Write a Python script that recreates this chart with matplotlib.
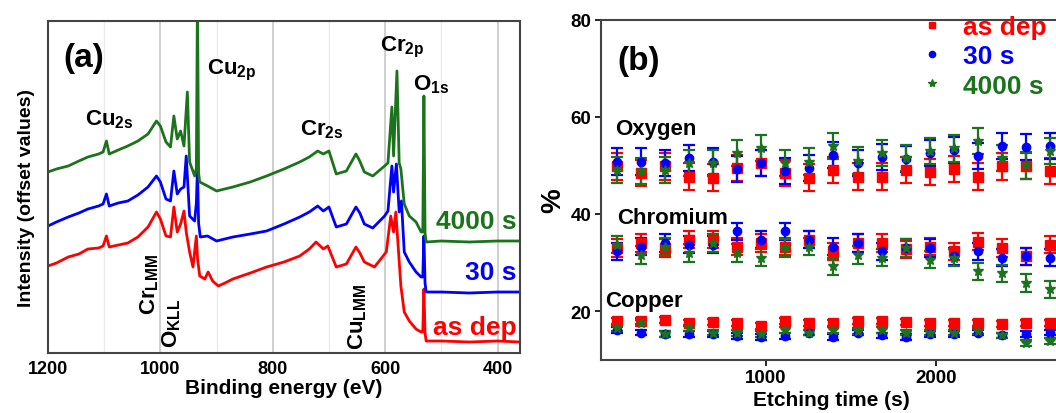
import matplotlib
matplotlib.use("Agg")
import matplotlib.pyplot as plt
from matplotlib.lines import Line2D

plt.rcParams['font.family'] = ['Liberation Sans', 'DejaVu Sans']
plt.rcParams['font.weight'] = 'bold'
plt.rcParams['mathtext.fontset'] = 'custom'
plt.rcParams['mathtext.rm'] = 'Liberation Sans:bold'
plt.rcParams['mathtext.it'] = 'Liberation Sans:bold'
plt.rcParams['mathtext.bf'] = 'Liberation Sans:bold'

RED = '#ff0000'
BLUE = '#0000ff'
GREEN = '#1b741b'

# ---- panel (a): survey spectra (binding energy in eV, intensity in arb. units, offset)
e_asdep = [1200, 1185, 1164, 1145, 1129, 1110, 1102, 1096, 1091, 1075, 1058, 1040, 1022,
           1007, 1000, 990, 982, 976, 970, 964, 958, 954, 948, 942, 936, 934, 930, 921,
           915, 907, 897, 885, 871, 840, 811, 780, 752, 735, 723, 710, 702, 687, 669,
           652, 645, 637, 619, 598, 590, 585, 581, 572, 566, 557, 545, 536, 533, 531,
           529, 527, 500, 450, 400, 360]
i_asdep = [87, 90, 96, 99, 104, 105, 107, 117, 106, 108, 110, 116, 126,
           141, 134, 117, 116, 146, 121, 129, 142, 121, 101, 86, 117, 95, 77, 74,
           81, 72, 67, 70, 74, 80, 86, 91, 97, 104, 111, 104, 107, 86, 89,
           106, 100, 91, 86, 101, 137, 121, 141, 67, 41, 32, 24, 21, 21, 64,
           20, 12, 12, 11, 12, 11]

e_30s = [1200, 1185, 1164, 1145, 1129, 1110, 1102, 1096, 1091, 1075, 1058, 1040, 1022,
         1007, 1000, 990, 982, 976, 970, 964, 958, 954, 948, 939, 936, 934, 932, 929,
         916, 900, 871, 840, 811, 780, 752, 735, 720, 710, 700, 687, 669, 652, 645,
         637, 622, 601, 595, 588, 585, 580, 575, 571, 566, 557, 545, 536, 533, 531,
         529, 527, 500, 450, 400, 360]
i_30s = [127, 131, 136, 140, 144, 147, 149, 159, 147, 150, 152, 158, 166,
         177, 171, 154, 152, 182, 159, 164, 166, 197, 137, 132, 150, 185, 130, 116,
         117, 112, 116, 119, 122, 129, 136, 141, 147, 142, 146, 126, 129, 146, 140,
         129, 125, 137, 142, 187, 161, 189, 141, 152, 101, 91, 81, 76, 76, 117,
         70, 61, 61, 60, 61, 61]

e_4000s = [1200, 1185, 1164, 1145, 1129, 1110, 1102, 1096, 1091, 1075, 1058, 1040, 1022,
           1007, 1000, 990, 982, 976, 970, 964, 958, 952, 948, 939, 936, 934, 932, 930,
           916, 900, 871, 840, 811, 780, 752, 735, 720, 710, 700, 687, 669, 652, 646,
           637, 622, 601, 595, 588, 585, 579, 575, 572, 566, 557, 545, 536, 533, 531,
           529, 527, 500, 450, 400, 360]
i_4000s = [181, 184, 187, 192, 196, 199, 201, 212, 199, 203, 207, 212, 219,
           232, 227, 211, 206, 237, 214, 222, 207, 261, 191, 177, 185, 360, 180, 171,
           167, 162, 166, 171, 177, 184, 191, 196, 202, 199, 202, 179, 182, 199, 193,
           181, 177, 187, 190, 246, 197, 282, 190, 184, 149, 137, 131, 121, 121, 257,
           120, 111, 112, 111, 112, 112]

# ---- panel (b): composition vs etching time
t_etch = [122, 264, 405, 547, 689, 830, 972, 1114, 1256, 1397, 1539, 1681, 1822,
          1964, 2106, 2248, 2389, 2531, 2673]
o_asdep = [49.8, 48.4, 49.8, 47.7, 47.5, 49.5, 50.5, 48.4, 47.5, 49.1, 47.7, 47.7, 49.1,
           48.6, 49.3, 47.7, 49.8, 49.9, 48.8]
o_30s = [50.8, 50.8, 50.5, 51.5, 50.8, 49.3, 50.5, 48.8, 49.5, 52.2, 50.5, 51.7, 51.3,
         52.5, 53.1, 52.0, 54.0, 53.8, 54.0]
o_4000s = [49.1, 48.8, 49.1, 50.5, 50.5, 52.5, 53.6, 50.5, 50.8, 54.0, 51.0, 52.5, 51.5,
           53.0, 53.5, 55.0, 51.5, 50.0, 53.0]
cr_asdep = [33.0, 34.0, 33.0, 34.7, 34.7, 33.3, 34.0, 33.3, 34.7, 32.3, 34.0, 34.0, 32.7,
            33.3, 32.3, 34.3, 33.0, 31.3, 33.7]
cr_30s = [32.3, 33.3, 34.0, 33.7, 33.7, 36.4, 34.7, 36.4, 34.7, 33.3, 34.0, 32.3, 33.0,
          33.0, 31.3, 32.3, 31.0, 31.3, 31.0]
cr_4000s = [33.7, 31.6, 33.3, 32.0, 34.0, 32.0, 31.0, 33.0, 33.3, 29.2, 31.6, 31.0, 33.0,
            30.6, 31.0, 28.2, 27.8, 25.8, 24.5]
cu_asdep = [18.0, 18.0, 18.2, 17.6, 17.7, 17.5, 17.0, 18.0, 17.6, 17.6, 18.0, 18.0, 17.8,
            17.6, 17.6, 17.6, 17.3, 17.5, 17.5]
cu_30s = [16.2, 15.6, 15.3, 15.3, 15.3, 14.8, 14.6, 14.8, 15.6, 14.6, 15.6, 15.0, 14.6,
          15.3, 15.3, 15.6, 15.0, 15.3, 15.6]
cu_4000s = [16.6, 17.5, 15.3, 16.5, 15.6, 15.5, 15.3, 16.2, 15.6, 16.2, 15.9, 16.2, 15.6,
            15.6, 15.6, 15.9, 15.0, 13.5, 13.9]
o_err = 2.7
cr_err = 1.8
cu_err = 0.6

fig = plt.figure(figsize=(10.56, 4.14), dpi=100)
W, H = 1056, 414

# ================= panel (a)
ax = fig.add_axes([48 / W, (H - 354) / H, (520 - 48) / W, (354 - 22) / H])
ax.plot(e_asdep, i_asdep, color=RED, lw=2.0)
ax.plot(e_30s, i_30s, color=BLUE, lw=2.0)
ax.plot(e_4000s, i_4000s, color=GREEN, lw=2.0)
ax.set_xlim(1200, 360)
ax.set_ylim(0, 332)
ax.set_xticks([1200, 1000, 800, 600, 400])
ax.set_xticks([1100, 900, 700, 500], minor=True)
ax.set_yticks([])
ax.grid(True, which='major', axis='x', color='#cccccc', lw=1.3)
ax.grid(True, which='minor', axis='x', color='#ebebeb', lw=1.0)
ax.set_axisbelow(True)
ax.tick_params(axis='x', which='both', length=0, pad=5, labelsize=13)
for s in ax.spines.values():
    s.set_color('#444444')
    s.set_linewidth(1.5)
ax.set_xlabel('Binding energy (eV)', fontsize=15, fontweight='bold')
ax.xaxis.set_label_coords(0.5, -0.075)
ax.set_ylabel('Intensity (offset values)', fontsize=14, fontweight='bold')
ax.yaxis.set_label_coords(-0.028, 0.47)

ax.text(1173, 296, '(a)', fontsize=24, fontweight='bold', va='center', ha='left')
ax.text(1135, 234, r'Cu$_{2s}$', fontsize=16, va='center', ha='left')
ax.text(917, 284, r'Cu$_{2p}$', fontsize=16, va='center', ha='left')
ax.text(752, 224, r'Cr$_{2s}$', fontsize=16, va='center', ha='left')
ax.text(610, 307, r'Cr$_{2p}$', fontsize=16, va='center', ha='left')
ax.text(551, 269, r'O$_{1s}$', fontsize=16, va='center', ha='left')
ax.text(1019, 39, r'Cr$_{LMM}$', fontsize=16, rotation=90, ha='center', va='bottom')
ax.text(980, 6, r'O$_{KLL}$', fontsize=16, rotation=90, ha='center', va='bottom')
ax.text(649, 4, r'Cu$_{LMM}$', fontsize=16, rotation=90, ha='center', va='bottom')
ax.text(366, 132, '4000 s', color=GREEN, fontsize=19, ha='right', va='center')
ax.text(366, 81, '30 s', color=BLUE, fontsize=19, ha='right', va='center')
ax.text(366, 26, 'as dep', color=RED, fontsize=19, ha='right', va='center')

# ================= panel (b)
bx = fig.add_axes([601 / W, (H - 360.7) / H, 460 / W, 340 / H])
eb = dict(ls='none', elinewidth=1.6, capsize=4, capthick=1.6)
series = [
    (o_asdep, cr_asdep, cu_asdep, RED, 's', 6.5),
    (o_30s, cr_30s, cu_30s, BLUE, 'o', 6),
    (o_4000s, cr_4000s, cu_4000s, GREEN, '*', 7.5),
]
for o, cr, cu, c, m, ms in series:
    bx.errorbar(t_etch, o, yerr=o_err, color=c, marker=m, ms=ms, **eb)
    bx.errorbar(t_etch, cr, yerr=cr_err, color=c, marker=m, ms=ms, **eb)
    bx.errorbar(t_etch, cu, yerr=cu_err, color=c, marker=m, ms=ms, **eb)

bx.set_xlim(30, 2735)
bx.set_ylim(10, 80)
bx.set_xticks([1000, 2000])
bx.set_yticks([20, 40, 60, 80])
bx.tick_params(direction='out', length=4, width=1.2, labelsize=13.5, pad=3)
for s in bx.spines.values():
    s.set_color('#444444')
    s.set_linewidth(1.5)
bx.spines['right'].set_visible(False)
bx.set_xlabel('Etching time (s)', fontsize=15, fontweight='bold')
bx.xaxis.set_label_coords(0.5, -0.09)
bx.set_ylabel('%', fontsize=20, fontweight='bold')
bx.yaxis.set_label_coords(-0.075, 0.47)

bx.text(112, 57.7, 'Oxygen', fontsize=16, ha='left', va='center')
bx.text(124, 39.3, 'Chromium', fontsize=16, ha='left', va='center')
bx.text(54, 22.1, 'Copper', fontsize=16, ha='left', va='center')
bx.text(124, 71.5, '(b)', fontsize=24, ha='left', va='center')

handles = [Line2D([], [], ls='none', marker='s', color=RED, ms=5),
           Line2D([], [], ls='none', marker='o', color=BLUE, ms=4.5),
           Line2D([], [], ls='none', marker='*', color=GREEN, ms=6)]
leg = bx.legend(handles, ['as dep', '30 s', '4000 s'], loc='upper left',
                bbox_to_anchor=((919 - 601) / 460, (360.7 - 16) / 340),
                frameon=False, fontsize=19, handlelength=1.0, handletextpad=0.65,
                labelspacing=0.2, borderpad=0, borderaxespad=0,
                labelcolor=[RED, BLUE, GREEN])

fig.savefig('out.png', dpi=100)
